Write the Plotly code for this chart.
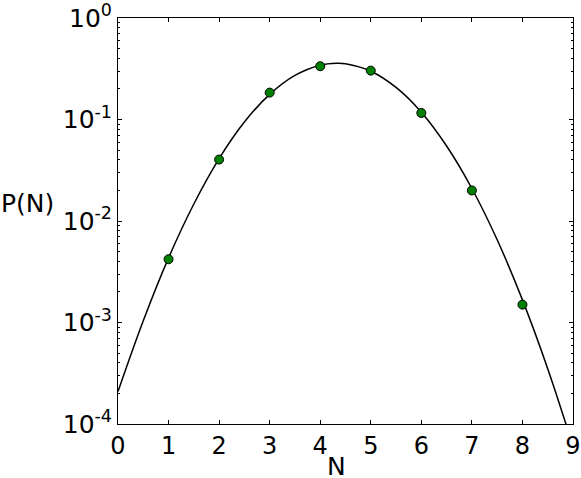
import plotly.graph_objects as go

# measured points
N_POINTS = [1, 2, 3, 4, 5, 6, 7, 8]
P_POINTS = [0.0042, 0.0403, 0.184, 0.335, 0.303, 0.116, 0.020, 0.0015]

# fitted curve
N_CURVE = [0, 0.5, 1, 1.5, 2, 2.5, 3, 3.5, 4, 4.33, 4.5, 5, 5.5, 6, 6.5, 7, 7.5, 8, 8.5, 9]
P_CURVE = [2.09e-4, 1.04e-3, 4.33e-3, 0.0147, 0.0412, 0.0944, 0.177, 0.272, 0.343, 0.358,
           0.354, 0.299, 0.207, 0.118, 0.0548, 0.0209, 0.00653, 0.00167, 3.51e-4, 6.04e-5]

Y_TICKS = [1e-4, 1e-3, 1e-2, 1e-1, 1]
Y_LABELS = ['10<sup>-4</sup>', '10<sup>-3</sup>', '10<sup>-2</sup>', '10<sup>-1</sup>', '10<sup>0</sup>']

FONT = 'DejaVu Sans'

fig = go.Figure()
fig.add_trace(go.Scatter(x=N_CURVE, y=P_CURVE, mode='lines', line_shape='spline',
                         line=dict(color='black', width=1.5), showlegend=False))
fig.add_trace(go.Scatter(x=N_POINTS, y=P_POINTS, mode='markers',
                         marker=dict(color='#008000', size=9, line=dict(color='black', width=1)),
                         showlegend=False))

fig.update_xaxes(range=[0, 9], tickvals=list(range(10)), ticks='inside', ticklen=4,
                 tickcolor='black', showline=True, linecolor='black', linewidth=1,
                 mirror='allticks', showgrid=False, zeroline=False, automargin=False,
                 ticklabeloverflow='allow',
                 tickfont=dict(family=FONT, size=24, color='black'))
fig.update_yaxes(type='log', range=[-4, 0], tickvals=Y_TICKS, ticktext=Y_LABELS,
                 ticks='inside', ticklen=4, tickcolor='black', showline=True,
                 linecolor='black', linewidth=1, mirror='allticks', showgrid=False,
                 zeroline=False, automargin=False, ticklabeloverflow='allow',
                 tickfont=dict(family=FONT, size=25, color='black'),
                 minor=dict(ticks='inside', ticklen=2, tickcolor='black', dtick='D1', showgrid=False))

fig.add_annotation(text='P(N)', xref='paper', yref='paper', x=-0.262, y=0.542,
                   xanchor='left', yanchor='middle', showarrow=False,
                   font=dict(family=FONT, size=25, color='black'))
fig.add_annotation(text='N', xref='paper', yref='paper', x=0.481, y=-0.104,
                   xanchor='center', yanchor='middle', showarrow=False,
                   font=dict(family=FONT, size=25, color='black'))

fig.update_layout(width=581, height=478, margin=dict(l=118, r=8, t=18, b=54),
                  plot_bgcolor='white', paper_bgcolor='white')
# drop the default body margin so the figure fills the window
fig.write_html("out.html", config={'displayModeBar': False},
               post_script="document.body.style.margin='0';")
